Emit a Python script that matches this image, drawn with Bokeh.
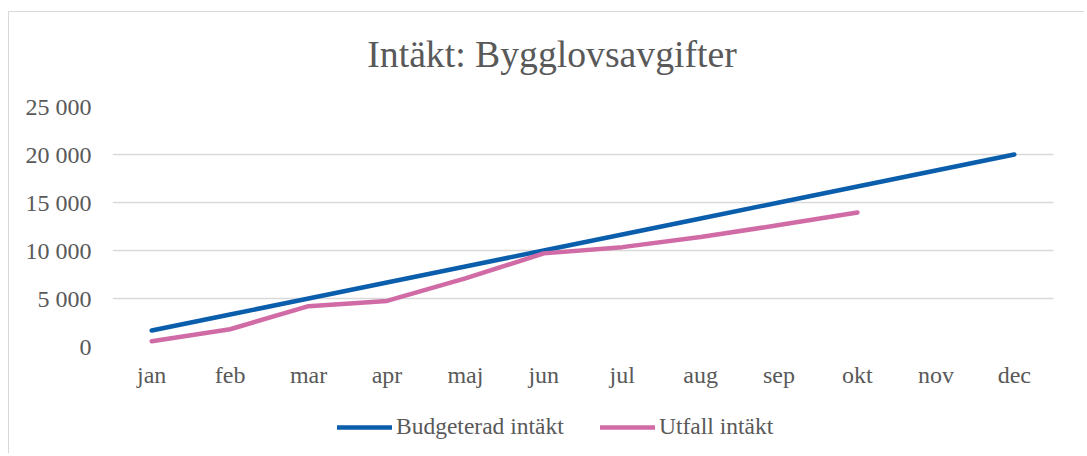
from bokeh.plotting import figure
from bokeh.layouts import column
from bokeh.models import FixedTicker, Legend, LegendItem, Label
from bokeh.embed import file_html
from bokeh.resources import INLINE

months = ["jan", "feb", "mar", "apr", "maj", "jun", "jul", "aug", "sep", "okt", "nov", "dec"]
budget = [1667, 3333, 5000, 6667, 8333, 10000, 11667, 13333, 15000, 16667, 18333, 20000]
utfall_months = months[:10]
utfall = [550, 1800, 4200, 4750, 7100, 9700, 10350, 11400, 12650, 13950]
y_ticks = [0, 5000, 10000, 15000, 20000, 25000]
y_tick_labels = ["0", "5 000", "10 000", "15 000", "20 000", "25 000"]
title_text = "Intäkt: Bygglovsavgifter"
series_names = ["Budgeterad intäkt", "Utfall intäkt"]

FONT = "Liberation Serif"
TXT = "#595959"
BLUE = "#0B5EAB"
PINK = "#D06BA6"
BORDER = "1px solid #d9d9d9"
W = 1076


def bare(height):
    f = figure(width=W, height=height, x_range=(0, 1), y_range=(0, 1),
               x_axis_type=None, y_axis_type=None, output_backend="svg",
               toolbar_location=None, min_border=0)
    f.title = None
    f.grid.grid_line_color = None
    f.outline_line_color = None
    f.background_fill_color = "white"
    f.border_fill_color = "white"
    return f


# --- title strip ---
pt = bare(80)
pt.styles = {"border-top": BORDER, "border-left": BORDER,
             "margin-top": "11px", "margin-left": "8px"}
pt.add_layout(Label(x=439.5, y=0.485, x_units="screen", y_units="data", text=title_text,
                    text_font=FONT, text_font_size="37.7px", text_color=TXT,
                    text_align="center", text_baseline="middle"))

# --- main chart ---
p = figure(width=W, height=303, x_range=months, y_range=(0, 25000),
           output_backend="svg", toolbar_location=None,
           min_border_left=103, min_border_right=32, min_border_top=15,
           min_border_bottom=48)
p.styles = {"border-left": BORDER, "margin-left": "8px"}
p.outline_line_color = None
p.background_fill_color = "white"
p.border_fill_color = "white"

p.line(months, budget, line_color=BLUE, line_width=4.5, line_cap="round", line_join="round")
p.line(utfall_months, utfall, line_color=PINK, line_width=4.5, line_cap="round", line_join="round")

p.xgrid.grid_line_color = None
p.ygrid.grid_line_color = "#d9d9d9"
p.ygrid.grid_line_width = 1.5

p.yaxis.ticker = FixedTicker(ticks=y_ticks)
p.yaxis.major_label_overrides = dict(zip(y_ticks, y_tick_labels))
for ax in (p.xaxis, p.yaxis):
    ax.axis_line_color = None
    ax.major_tick_line_color = None
    ax.minor_tick_line_color = None
    ax.major_tick_in = 0
    ax.major_tick_out = 0
    ax.major_label_text_font = FONT
    ax.major_label_text_font_size = "24px"
    ax.major_label_text_color = TXT
p.yaxis.major_label_standoff = 21
p.xaxis.major_label_standoff = 15

# --- legend strip (keys only, no data drawn) ---
nan = float("nan")
pl = bare(59)
pl.styles = {"border-left": BORDER, "margin-left": "8px"}
k1 = pl.line(x=[nan], y=[nan], line_color=BLUE, line_width=4.5, line_cap="round")
k2 = pl.line(x=[nan], y=[nan], line_color=PINK, line_width=4.5, line_cap="round")
legend = Legend(items=[LegendItem(label=series_names[0], renderers=[k1]),
                       LegendItem(label=series_names[1], renderers=[k2])],
                orientation="horizontal", location=(225, 13),
                label_text_font=FONT, label_text_font_size="23.5px", label_text_color=TXT,
                glyph_width=55, glyph_height=24, label_height=24, label_width=170,
                label_standoff=4, spacing=34, padding=0, margin=0,
                border_line_color=None, background_fill_alpha=0)
pl.add_layout(legend, "center")

layout = column(pt, p, pl, spacing=0)
open("out.html", "w").write(file_html(layout, INLINE))
